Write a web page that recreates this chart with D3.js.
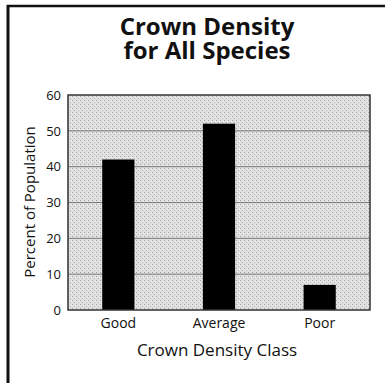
<!DOCTYPE html>
<html>
<head>
<meta charset="utf-8">
<script src="https://cdn.jsdelivr.net/npm/d3@7"></script>
<style>
  html, body { margin: 0; padding: 0; background: #fff; }
  svg { display: block; }
  text { font-family: "Open Sans", Lato, sans-serif; fill: #111; }
</style>
</head>
<body>
<svg id="chart" width="385" height="383"></svg>
<script>
const categories = ["Good", "Average", "Poor"];
const values = [42, 52, 7];
const yTicks = [0, 10, 20, 30, 40, 50, 60];
const titleLines = ["Crown Density", "for All Species"];
const xTitle = "Crown Density Class";
const yTitle = "Percent of Population";

const FONT = "'Open Sans', Lato, sans-serif";
const svg = d3.select("#chart");
const plot = { left: 68, right: 370, top: 95, bottom: 310 };

// speckled paper fill for the plot area
const defs = svg.append("defs");
const pat = defs.append("pattern")
  .attr("id", "stipple").attr("patternUnits", "userSpaceOnUse")
  .attr("width", 4).attr("height", 4);
pat.append("rect").attr("width", 4).attr("height", 4).attr("fill", "#e0e0e0");
pat.append("rect").attr("x", 0).attr("y", 0).attr("width", 1).attr("height", 1).attr("fill", "#a4a4a4");
pat.append("rect").attr("x", 2).attr("y", 2).attr("width", 1).attr("height", 1).attr("fill", "#b0b0b0");
pat.append("rect").attr("x", 3).attr("y", 1).attr("width", 1).attr("height", 1).attr("fill", "#f4f4f4");

// outer frame: top and left edges only
svg.append("line").attr("x1", 7).attr("x2", 385).attr("y1", 6).attr("y2", 6)
  .attr("stroke", "#111").attr("stroke-width", 2.5);
svg.append("line").attr("x1", 8).attr("x2", 8).attr("y1", 5).attr("y2", 383)
  .attr("stroke", "#111").attr("stroke-width", 3);

// two-line title
svg.append("g").selectAll("text").data(titleLines).join("text")
  .attr("x", 207).attr("y", (d, i) => 35 + i * 24)
  .attr("text-anchor", "middle")
  .attr("font-size", 24).attr("font-weight", 700).attr("font-family", FONT)
  .text(d => d);

const x = d3.scaleBand().domain(categories)
  .range([plot.left, plot.right]).paddingInner(0.68).paddingOuter(0.34);
const y = d3.scaleLinear().domain([0, 60]).range([plot.bottom, plot.top]);

svg.append("rect")
  .attr("x", plot.left).attr("y", plot.top)
  .attr("width", plot.right - plot.left).attr("height", plot.bottom - plot.top)
  .attr("fill", "url(#stipple)");

// horizontal gridlines
svg.append("g").selectAll("line").data(yTicks.filter(t => t > 0 && t < 60)).join("line")
  .attr("x1", plot.left).attr("x2", plot.right)
  .attr("y1", d => y(d)).attr("y2", d => y(d))
  .attr("stroke", "#7a7a7a").attr("stroke-width", 1);

// bars
svg.append("g").selectAll("rect").data(values).join("rect")
  .attr("x", (d, i) => x(categories[i]))
  .attr("width", x.bandwidth())
  .attr("y", d => y(d))
  .attr("height", d => y(0) - y(d))
  .attr("fill", "#000");

// plot frame
svg.append("rect")
  .attr("x", plot.left).attr("y", plot.top)
  .attr("width", plot.right - plot.left).attr("height", plot.bottom - plot.top)
  .attr("fill", "none").attr("stroke", "#333").attr("stroke-width", 1.5);

// y axis labels
const yAxis = d3.axisLeft(y).tickValues(yTicks).tickSize(0).tickPadding(7);
const gy = svg.append("g").attr("transform", `translate(${plot.left},0)`).call(yAxis);
gy.select(".domain").remove();
gy.selectAll("text").attr("font-size", 13).attr("font-family", FONT).attr("fill", "#111");

// x axis labels
const xAxis = d3.axisBottom(x).tickSize(0).tickPadding(8);
const gx = svg.append("g").attr("transform", `translate(0,${plot.bottom})`).call(xAxis);
gx.select(".domain").remove();
gx.selectAll("text").attr("font-size", 14).attr("font-family", FONT).attr("fill", "#111");

// axis titles
svg.append("text").attr("x", 217).attr("y", 356).attr("text-anchor", "middle")
  .attr("font-size", 17).text(xTitle);
svg.append("text").attr("transform", "translate(35,202) rotate(-90)")
  .attr("text-anchor", "middle").attr("font-size", 15).text(yTitle);
</script>
</body>
</html>
